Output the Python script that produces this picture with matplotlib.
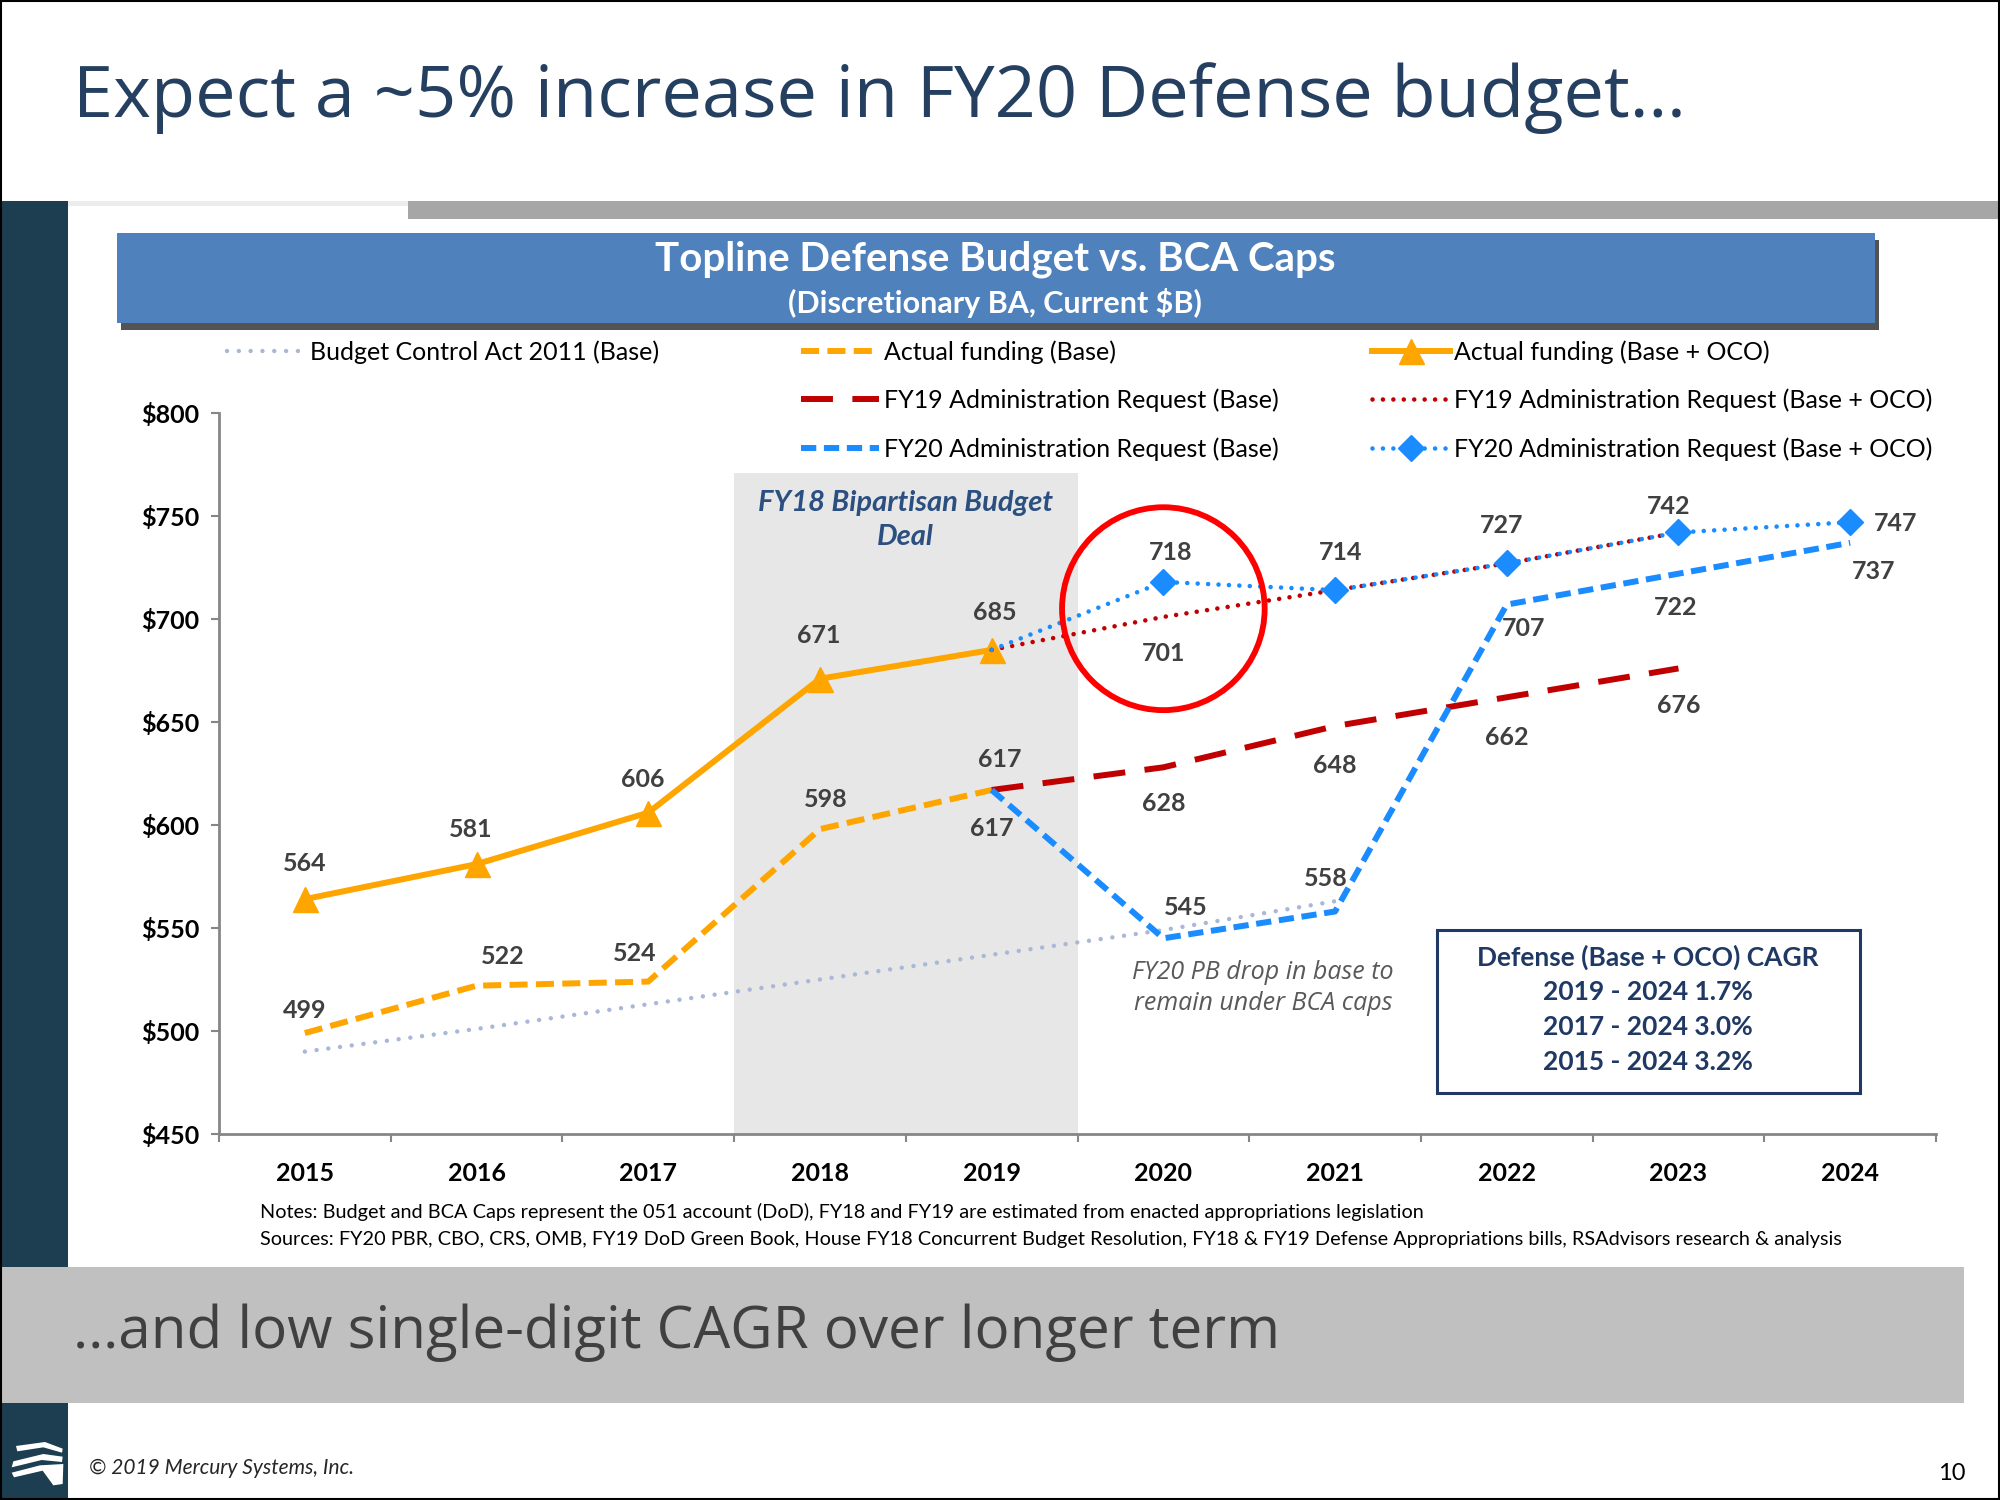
import matplotlib
matplotlib.use('Agg')
import numpy as np
import matplotlib.pyplot as plt
from matplotlib.patches import Rectangle, Ellipse, Polygon
from matplotlib.lines import Line2D

plt.rcParams['font.family'] = ['Lato', 'DejaVu Sans']
plt.rcParams['lines.scale_dashes'] = False

# ---- data ($B, discretionary BA) ----
years = ['2015', '2016', '2017', '2018', '2019', '2020', '2021', '2022', '2023', '2024']
bca_base = [490, 501, 513, 525, 537, 549, 563]           # 2015-2021
actual_base = [499, 522, 524, 598, 617]                  # 2015-2019
actual_oco = [564, 581, 606, 671, 685]                   # 2015-2019
fy19_base = [617, 628, 648, 662, 676]                    # 2019-2023
fy19_oco = [685, 701, 714, 727, 742]                     # 2019-2023
fy20_base = [617, 545, 558, 707, 722, 737]               # 2019-2024
fy20_oco = [685, 718, 714, 727, 742, 747]                # 2019-2024
cagr_lines = ['Defense (Base + OCO) CAGR', '2019 - 2024 1.7%', '2017 - 2024 3.0%', '2015 - 2024 3.2%']

# label offsets in points (None = no label)
off_actual_base = [(0, 16), (19, 21), (-10, 20), (4, 21), (6, 22)]
off_actual_oco = [(0, 26), (-4, 25), (-4, 24), (-1, 31), (2, 27)]
off_fy19_base = [None, (0, -26), (0, -28), (0, -29), (0, -27)]
off_fy19_oco = [None, (0, -26), None, None, None]
off_fy20_base = [(0, -28), (16, 22), (-7, 24), (12, -17), (-2, -24), (17, -21)]
off_fy20_oco = [None, (5, 21), (4, 27), (-4, 27), (-7, 19), (33, -1)]

ORANGE = '#ffa500'
RED = '#c00000'
BLUE = '#1a8cff'
BCA = '#a9b8d6'
W, H = 2000, 1500

fig = plt.figure(figsize=(20, 15), dpi=100)


def box(x0, y0, x1, y1, **kw):
    r = Rectangle((x0 / W, 1 - y1 / H), (x1 - x0) / W, (y1 - y0) / H, transform=fig.transFigure, **kw)
    fig.add_artist(r)
    return r


def ftext(x, y, s, **kw):
    return fig.text(x / W, 1 - y / H, s, **kw)


# ---- slide furniture ----
box(0, 201, 68, 1500, color='#1c3e50', lw=0, zorder=0)
box(408, 201, 2000, 219, color='#a6a6a6', lw=0, zorder=0)
box(68, 201, 408, 206, color='#ececec', lw=0, zorder=0)
box(0, 1267, 1964, 1403, color='#c0c0c0', lw=0, zorder=0)
box(121, 240, 1879, 330, color='#1a1a1a', alpha=0.75, lw=0, zorder=0)
box(117, 233, 1875, 323, color='#4f81bd', lw=0, zorder=1)
box(1, 1, 1999, 1499, fill=False, ec='black', lw=1.5, zorder=5)

# logo (white fan stripes)
logo = [
    [(48, 138), (135, 126), (188, 146), (186, 158), (130, 142), (52, 154)],
    [(40, 184), (130, 162), (188, 170), (186, 186), (125, 180), (35, 202)],
    [(35, 218), (120, 196), (190, 192), (188, 252), (160, 256), (128, 212), (42, 232)],
]
for pts in logo:
    fig.add_artist(Polygon([((x / 3) / W, 1 - (1400 + y / 3) / H) for x, y in pts],
                           closed=True, color='white', lw=0, transform=fig.transFigure, zorder=2))

ftext(73, 98, 'Expect a ~5% increase in FY20 Defense budget…', fontsize=52, color='#243f60',
      family=['Open Sans', 'DejaVu Sans'], va='center')
ftext(73, 1333, '…and low single-digit CAGR over longer term', fontsize=42, color='#404040',
      family=['Open Sans', 'DejaVu Sans'], va='center')
ftext(995, 259, 'Topline Defense Budget vs. BCA Caps', fontsize=29, color='white',
      fontweight='bold', ha='center', va='center')
ftext(995, 303, '(Discretionary BA, Current $B)', fontsize=22, color='white',
      fontweight='bold', ha='center', va='center')
ftext(260, 1212, 'Notes: Budget and BCA Caps represent the 051 account (DoD), FY18 and FY19 are '
      'estimated from enacted appropriations legislation', fontsize=14.3, color='black', va='center')
ftext(260, 1240, 'Sources: FY20 PBR, CBO, CRS, OMB, FY19 DoD Green Book, House FY18 Concurrent Budget '
      'Resolution, FY18 & FY19 Defense Appropriations bills, RSAdvisors research & analysis',
      fontsize=14.3, color='black', va='center')
ftext(89, 1468, '© 2019 Mercury Systems, Inc.', fontsize=15, style='italic', color='#262626', va='center')
ftext(1966, 1473, '10', fontsize=17, color='black', ha='right', va='center')

# ---- chart ----
ax = fig.add_axes([219 / W, 1 - 1134 / H, (1936 - 219) / W, (1134 - 413) / H])
ax.set_facecolor('none')
ax.set_xlim(-0.5, 9.5)
ax.set_ylim(450, 800)

ax.axvspan(2.5, 4.5, ymin=0, ymax=(771 - 450) / 350, color='#e7e7e7', lw=0, zorder=0)
ax.text(3.5, 748, 'FY18 Bipartisan Budget\nDeal', ha='center', va='center', fontsize=21,
        fontweight='bold', style='italic', color='#2b4f80', linespacing=1.35, zorder=1)

styles = {
    'bca': dict(color=BCA, lw=3.2, linestyle=(0, (0.01, 8.5)), dash_capstyle='round'),
    'act_base': dict(color=ORANGE, lw=4.3, linestyle=(0, (13, 6))),
    'act_oco': dict(color=ORANGE, lw=4.3, marker='^', ms=18),
    'fy19_base': dict(color=RED, lw=4.3, linestyle=(0, (23, 14))),
    'fy19_oco': dict(color=RED, lw=3.3, linestyle=(0, (0.01, 7.5)), dash_capstyle='round'),
    'fy20_base': dict(color=BLUE, lw=4.3, linestyle=(0, (11, 5.5))),
    'fy20_oco': dict(color=BLUE, lw=3.3, linestyle=(0, (0.01, 7.5)), dash_capstyle='round',
                     marker='D', ms=13),
}

x_bca = list(range(len(bca_base)))
x_act = list(range(len(actual_base)))
x_fy19 = list(range(4, 4 + len(fy19_base)))
x_fy20 = list(range(4, 4 + len(fy20_base)))

ax.plot(x_bca, bca_base, zorder=2, **styles['bca'])
ax.plot(x_act, actual_base, zorder=3, **styles['act_base'])
ax.plot(x_fy19, fy19_base, zorder=3, **styles['fy19_base'])
ax.plot(x_fy20, fy20_base, zorder=3, **styles['fy20_base'])
ax.plot(x_act, actual_oco, zorder=4, **styles['act_oco'])
ax.plot(x_fy19, fy19_oco, zorder=4, **styles['fy19_oco'])
ax.plot(x_fy20, fy20_oco, zorder=5, markevery=slice(1, None), **styles['fy20_oco'])


def labels(xs, vals, offs):
    for x, v, o in zip(xs, vals, offs):
        if o is None:
            continue
        ax.annotate(str(v), (x, v), xytext=o, textcoords='offset points', ha='center', va='center',
                    fontsize=18, fontweight='bold', color='#404040', zorder=6)


labels(x_act, actual_base, off_actual_base)
labels(x_act, actual_oco, off_actual_oco)
labels(x_fy19, fy19_base, off_fy19_base)
labels(x_fy19, fy19_oco, off_fy19_oco)
labels(x_fy20, fy20_base, off_fy20_base)
labels(x_fy20, fy20_oco, off_fy20_oco)

# red highlight circle around FY20
ax.add_patch(Ellipse((5.0, 705), 1.18, 98.5, fill=False, ec='#ff0000', lw=4.2, zorder=7))

ax.text(5.58, 521, 'FY20 PB drop in base to\nremain under BCA caps', ha='center', va='center',
        fontsize=18, style='italic', color='#595959', linespacing=1.3, family=['Open Sans', 'DejaVu Sans'])

# CAGR box
box(1437, 930, 1860, 1093, fill=False, ec='#1f3864', lw=2.2, zorder=3)
for i, line in enumerate(cagr_lines):
    ftext(1648, 957 + i * 35, line, fontsize=19, fontweight='bold', color='#1f3864',
          ha='center', va='center')

# axes styling
for s in ['top', 'right']:
    ax.spines[s].set_visible(False)
for s in ['left', 'bottom']:
    ax.spines[s].set_color('#868686')
    ax.spines[s].set_linewidth(2)
yt = [450, 500, 550, 600, 650, 700, 750, 800]
ax.set_yticks(yt, ['$%d' % v for v in yt], fontsize=18, fontweight='bold')
ax.set_xticks(range(len(years)), years, fontsize=18, fontweight='bold')
ax.set_xticks(np.arange(-0.5, len(years)), minor=True)
ax.tick_params(axis='y', length=6, width=1.5, color='#868686', pad=8)
ax.tick_params(axis='x', which='major', length=0, pad=20)
ax.tick_params(axis='x', which='minor', length=6, width=1.5, color='#868686')


# legends (three columns)
def handle(key):
    return Line2D([], [], **styles[key])


cols = [
    (227, [('bca', 'Budget Control Act 2011 (Base)')]),
    (801, [('act_base', 'Actual funding (Base)'), ('fy19_base', 'FY19 Administration Request (Base)'),
           ('fy20_base', 'FY20 Administration Request (Base)')]),
    (1372, [('act_oco', 'Actual funding (Base + OCO)'), ('fy19_oco', 'FY19 Administration Request (Base + OCO)'),
            ('fy20_oco', 'FY20 Administration Request (Base + OCO)')]),
]
for xpos, items in cols:
    fig.legend([handle(k) for k, _ in items], [t for _, t in items], loc='upper left',
               bbox_to_anchor=(xpos / W, 1 - 340 / H), frameon=False, fontsize=18,
               handlelength=3.1, handletextpad=0.2, labelspacing=1.0, borderpad=0,
               borderaxespad=0, numpoints=1)

fig.savefig('out.png', dpi=100)
